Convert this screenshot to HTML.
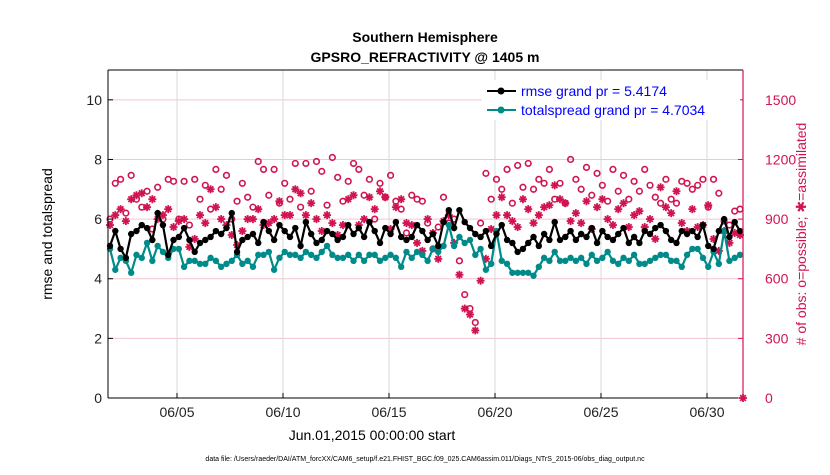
<!DOCTYPE html>
<html><head><meta charset="utf-8"><style>
body{margin:0;background:#fff;}
svg text{font-family:"Liberation Sans",sans-serif;}
</style></head><body>
<svg id="chart" width="830" height="470" xmlns="http://www.w3.org/2000/svg">
<rect width="830" height="470" fill="#fff"/>
<text x="425" y="42" text-anchor="middle" font-size="14" font-weight="bold">Southern Hemisphere</text>
<text x="425" y="62" text-anchor="middle" font-size="14" font-weight="bold">GPSRO_REFRACTIVITY @ 1405 m</text>
<g id="grid"></g>
<g id="series"></g>
<g id="axes"></g>
<g>
<rect x="482" y="80" width="258" height="40" fill="#fff"/>
<line x1="487" y1="91" x2="516" y2="91" stroke="#000" stroke-width="2"/><circle cx="501" cy="91" r="3.5" fill="#000"/>
<text x="521" y="96" font-size="14" fill="#0000ff">rmse grand pr = 5.4174</text>
<line x1="487" y1="110" x2="516" y2="110" stroke="#008b8b" stroke-width="2"/><circle cx="501" cy="110" r="3.5" fill="#008b8b"/>
<text x="521" y="115" font-size="14" fill="#0000ff">totalspread grand pr = 4.7034</text>
</g>
<text transform="translate(52,234) rotate(-90)" text-anchor="middle" font-size="14">rmse and totalspread</text>
<text transform="translate(806,234) rotate(-90)" text-anchor="middle" font-size="14" fill="#d11450"># of obs: o=possible; ✱=assimilated</text>
<text x="372" y="440" text-anchor="middle" font-size="14">Jun.01,2015 00:00:00 start</text>
<text x="425" y="461" text-anchor="middle" font-size="7">data file: /Users/raeder/DAI/ATM_forcXX/CAM6_setup/f.e21.FHIST_BGC.f09_025.CAM6assim.011/Diags_NTrS_2015-06/obs_diag_output.nc</text>
</svg>
<script>
const rmse=[5.1,5.6,5.0,4.7,5.5,5.6,5.8,5.7,5.3,6.2, 5.8,4.8,5.3,5.4,5.7,5.3,4.9,5.2, 5.3,5.4,5.6,5.5,5.7,6.2,4.9,5.3, 5.4,5.5,5.2,5.9,5.6,5.3,5.8,5.6, 5.4,5.7,5.1,5.9,5.5,5.2,5.3,5.6, 5.5,5.3,5.4,5.8,5.5,5.7,5.4,5.9, 5.6,5.2,5.7,5.5,5.9,5.4,5.3,5.4, 5.8,5.6,5.3,5.5,5.1,5.9,6.3,5.7,6.3,5.9, 5.7,5.5,5.4,5.6,5.1,5.5,5.8,5.3,5.2,4.9, 5.0,5.2,5.4,5.1,5.5,5.3,5.9,5.3,5.4,5.6, 5.3,5.5,5.4,5.7,5.2,5.6,5.4,5.3,5.5,5.7,5.2,5.4, 5.2,5.6,5.5,5.7,5.8,5.6,5.3,5.2,5.6,5.5, 5.6,5.4,5.8,5.1,5.0,5.6,6.0,5.4,5.9,5.6];
const spread=[5.0,4.3,4.7,4.6,4.2,4.8,4.7,5.2,4.6,5.1, 4.9,4.7,5.0,5.0,4.4,4.6,4.6,4.5, 4.5,4.7,4.6,4.4,4.5,4.6,4.8,4.5, 4.6,4.4,4.8,4.8,4.9,4.3,4.7,4.9, 4.8,4.8,4.7,4.9,4.8,4.7,4.9,5.1, 4.8,4.7,4.7,4.8,4.6,4.8,4.6,4.8, 4.8,4.6,4.7,4.8,4.7,4.4,4.9,4.7, 4.9,4.8,4.6,5.0,4.9,5.1,5.8,5.1,5.4,5.2, 5.3,4.8,5.0,4.3,4.5,5.6,4.6,4.5,4.2,4.2, 4.2,4.2,4.1,4.4,4.7,4.6,4.9,4.6,4.6,4.7, 4.6,4.7,4.5,4.8,4.6,4.7,4.9,4.6,4.5,4.7,4.6,4.8, 4.5,4.5,4.6,4.7,4.8,4.8,4.6,4.6,4.4,4.8, 5.0,5.0,4.7,4.4,4.9,4.5,5.6,4.6,4.7,4.8];
const possible=[900,1080,1100,930,1120,1000,960,1040,850,1060, 900,1100,1090,900,1090,870,1100,1000, 1070,950,1150,1050,1120,900,990,1080, 1010,960,1190,1150,1020,1150,980,1080, 1000,1180,960,1180,1040,1190,1140,970, 1210,1110,990,1090,1180,1150,1020,1100, 900,1080,1010,1120,990,950,830,1020, 1000,990,880,750,860,1010,880,900,690,520, 450,380,880,1130,1000,1100,1050,1150,980,1170, 1060,1180,1050,1100,1080,1150,1000,1080,980,1200, 1100,1050,1160,1020,1130,1070,990,1150,1040,1120,1000,1090, 1040,1150,1070,1010,980,1100,1000,980,1090,1080, 1050,1070,1100,960,1100,1030,890,870,940,950];
const assim=[870,920,950,890,1000,1020,1030,960,1000,900, 920,950,860,890,900,760,800,920, 880,1050,960,900,870,820,770,840, 900,900,950,870,880,900,990,920, 920,1050,1030,920,980,900,840,920, 880,820,870,1000,1020,870,900,1010, 950,1040,1010,850,960,1000,880,870, 780,740,900,830,700,890,920,780,620,450, 420,340,590,700,850,920,1010,920,890,860, 1000,950,880,920,960,970,1070,1000,980,890, 930,880,990,850,960,1000,900,870,950,980,860,920, 940,860,900,800,1060,960,930,1040,880,840, 950,860,870,970,800,740,840,780,830,820];
const xTickLabels=["06/05","06/10","06/15","06/20","06/25","06/30"];
const xTickDays=[5,10,15,20,25,30];
const leftTicks=[0,2,4,6,8,10];
const rightTicks=[0,300,600,900,1200,1500];

const NS="http://www.w3.org/2000/svg";
const L=108,R=743,T=70,B=398;
const red="#d11450",teal="#008b8b";
function xIdx(i){return 110+i*(630/(rmse.length-1));}
function xDay(d){return 92.2+(d-1)*21.2;}
function yL(v){return B-v*(B-T)/11;}
function yR(v){return yL(v/150);}
function mk(tag,attrs,parent){const e=document.createElementNS(NS,tag);for(const k in attrs)e.setAttribute(k,attrs[k]);parent.appendChild(e);return e;}
const grid=document.getElementById('grid'),ser=document.getElementById('series'),ax=document.getElementById('axes');
mk('rect',{x:L,y:T,width:R-L,height:B-T,fill:'#fff'},grid);
rightTicks.forEach(t=>{if(t>0){const g=mk('line',{x1:L,x2:R,y1:yR(t),y2:yR(t),stroke:'#f2c6d4','stroke-width':1},grid);

}});
xTickDays.forEach(d=>{const g=mk('line',{x1:xDay(d),x2:xDay(d),y1:T,y2:B,stroke:'#d8d8d8','stroke-width':1},grid);

});
possible.forEach((v,i)=>{const c=mk('circle',{cx:xIdx(i),cy:yR(v),r:2.8,fill:'none',stroke:red,'stroke-width':1.6},ser);

});
function star(x,y){const g=mk('g',{},ser);


[0,45,90,135].forEach(a=>{const r=a*Math.PI/180,dx=4*Math.cos(r),dy=4*Math.sin(r);mk('line',{x1:x-dx,y1:y-dy,x2:x+dx,y2:y+dy,stroke:red,'stroke-width':1.8},g);});}
assim.forEach((v,i)=>star(xIdx(i),yR(v)));
function line(arr,col,name){const p=mk('polyline',{points:arr.map((v,i)=>xIdx(i)+','+yL(v)).join(' '),fill:'none',stroke:col,'stroke-width':2.2},ser);


arr.forEach((v,i)=>{const c=mk('circle',{cx:xIdx(i),cy:yL(v),r:3.2,fill:col},ser);

});}
line(spread,teal,'totalspread');
line(rmse,'#000','rmse');
star(R,B);
mk('line',{x1:L,x2:R,y1:T,y2:T,stroke:'#000','stroke-width':1},ax);
mk('line',{x1:L,x2:R,y1:B,y2:B,stroke:'#000','stroke-width':1},ax);
const la=mk('line',{x1:L,x2:L,y1:T,y2:B,stroke:'#000','stroke-width':1},ax);


const ra=mk('line',{x1:R,x2:R,y1:T,y2:B,stroke:red,'stroke-width':1.2},ax);


leftTicks.forEach(t=>{mk('line',{x1:L,x2:L+5,y1:yL(t),y2:yL(t),stroke:'#000'},ax);
const tx=mk('text',{x:L-6,y:yL(t)+5,'text-anchor':'end','font-size':14,fill:'#222'},ax);tx.textContent=t;

});
rightTicks.forEach(t=>{mk('line',{x1:R-5,x2:R,y1:yR(t),y2:yR(t),stroke:red},ax);
const tx=mk('text',{x:R+22,y:yR(t)+5,'text-anchor':'start','font-size':14,fill:red},ax);tx.textContent=t;

});
xTickDays.forEach((d,i)=>{mk('line',{x1:xDay(d),x2:xDay(d),y1:B-5,y2:B,stroke:'#000'},ax);
const tx=mk('text',{x:xDay(d),y:B+19,'text-anchor':'middle','font-size':14,fill:'#222'},ax);tx.textContent=xTickLabels[i];

});
</script>
</body></html>
